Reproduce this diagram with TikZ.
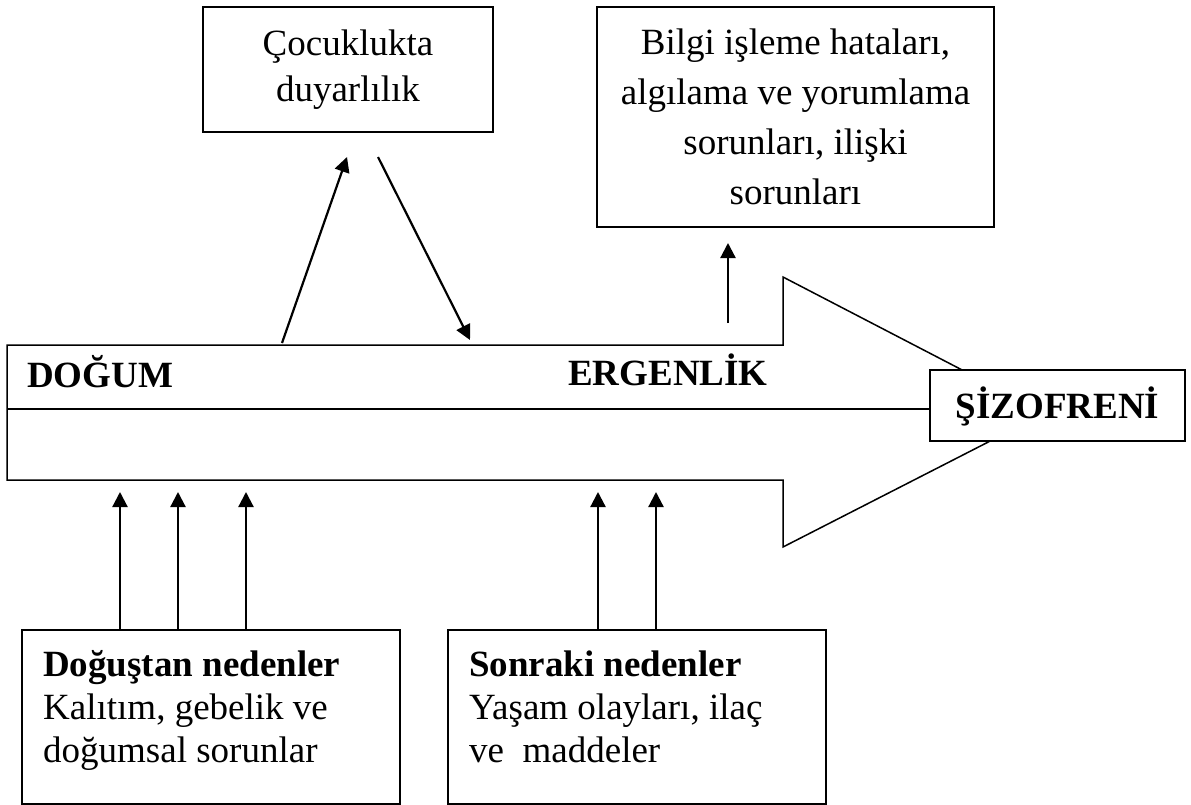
\documentclass[tikz,border=0pt]{standalone}
\usepackage{fontspec}
\setmainfont{Liberation Serif}
\usetikzlibrary{arrows.meta}
\newcommand{\myfs}{\fontsize{37}{43}\selectfont}
\begin{document}
\begin{tikzpicture}[x=1pt,y=-1pt,
  every node/.style={font=\myfs},
  box/.style={draw, line width=1.5pt, inner sep=0pt},
  outl/.style={line width=1.5pt, line join=miter},
  arr/.style={line width=2.2pt, -{Triangle[length=15pt,width=15pt]}},
  lbl/.style={inner sep=0pt}
]
\useasboundingbox (0,0) rectangle (1191,805);
% big arrow
\draw[outl] (7,345) -- (783,345) -- (783,277) -- (1045,413) -- (783,547) -- (783,480) -- (7,480) -- cycle;
\coordinate (bodyL) at (7,409);
\node[box, fill=white, minimum width=255pt, minimum height=71pt, text height=25pt, text depth=0pt, font=\myfs\bfseries] (siz) at (1057.5,405.5) {ŞİZOFRENİ};
\draw[outl] (bodyL) -- (siz.west |- bodyL);
\node[lbl, anchor=base west, font=\myfs\bfseries] (dogum) at (27,387) {DOĞUM};
\node[lbl, anchor=base west, font=\myfs\bfseries] (ergen) at (568,385) {ERGENLİK};
% top boxes
\node[box, minimum width=290pt, minimum height=125pt, align=center, font=\fontsize{37}{46}\selectfont] (coc) at (348,69.5) {Çocuklukta\\duyarlılık};
\node[box, minimum width=397pt, minimum height=220pt, align=center, font=\fontsize{37}{50}\selectfont] (bil) at (795.5,117) {Bilgi işleme hataları,\\algılama ve yorumlama\\sorunları, ilişki\\sorunları};
\coordinate (u1s) at (282,343);
\coordinate (u1e) at (347,157);
\coordinate (u2s) at (378,157);
\coordinate (u2e) at (470,340);
\coordinate (u3s) at (728,323);
\coordinate (u3e) at (728,243);
\draw[arr] (u1s) -- (u1e);
\draw[arr] (u2s) -- (u2e);
\draw[arr] (u3s) -- (u3e);
% bottom boxes
\node[box, minimum width=378pt, minimum height=174pt] (dg) at (211,717) {};
\node[lbl, anchor=north west, align=left] (dgt) at (43,650.5) {\textbf{Doğuştan nedenler}\\Kalıtım, gebelik ve\\doğumsal sorunlar};
\node[box, minimum width=378pt, minimum height=174pt] (sn) at (637,717) {};
\node[lbl, anchor=north west, align=left] (snt) at (469,650.5) {\textbf{Sonraki nedenler}\\Yaşam olayları, ilaç\\ve\ \ maddeler};
\coordinate (d1) at (120,492);
\coordinate (d2) at (178,492);
\coordinate (d3) at (246,492);
\coordinate (d4) at (598,492);
\coordinate (d5) at (656,492);
\foreach \c in {d1,d2,d3} \draw[arr] (dg.north -| \c) -- (\c);
\foreach \c in {d4,d5} \draw[arr] (sn.north -| \c) -- (\c);
\end{tikzpicture}
\end{document}
